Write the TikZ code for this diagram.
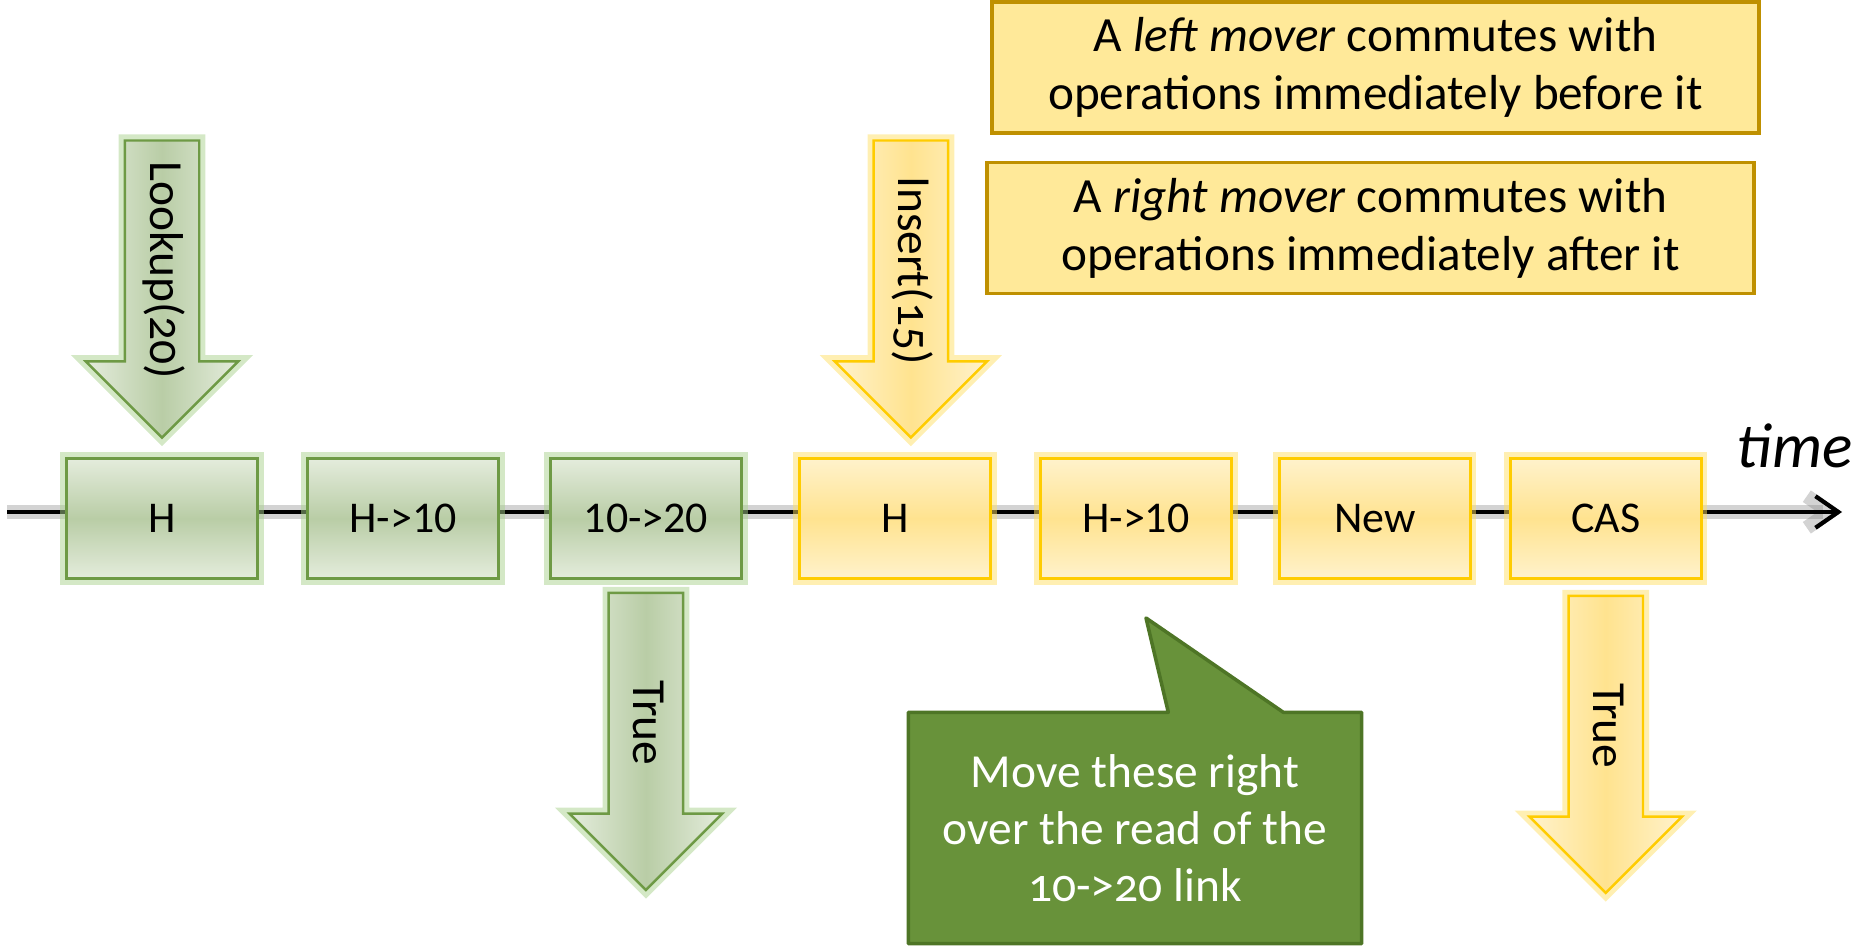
\documentclass[tikz,border=0pt]{standalone}
\usepackage{fontspec}
\setmainfont{Carlito}
\newfontfamily\oldnum[Numbers=OldStyle]{Carlito}
\usepackage{tikz}
\usetikzlibrary{arrows.meta}
\usetikzlibrary{backgrounds}
\usetikzlibrary{calc}
\usetikzlibrary{positioning}
\usetikzlibrary{shapes.arrows}

\definecolor{old-edge}{HTML}{6E9A45}
\definecolor{old-glow}{HTML}{A9D18E}
\definecolor{old-light}{HTML}{E4ECDC}
\definecolor{old-mid}{HTML}{B9CDA6}
\definecolor{new-edge}{HTML}{FFCC00}
\definecolor{new-glow}{HTML}{FFE066}
\definecolor{new-light}{HTML}{FFF2CC}
\definecolor{new-mid}{HTML}{FFE38F}
\definecolor{info-fill}{HTML}{FFE999}
\definecolor{info-edge}{HTML}{BF9000}
\definecolor{note-fill}{HTML}{68923A}
\definecolor{note-edge}{HTML}{4E7526}

\begin{document}
\begin{tikzpicture}[
    timeline/.style={line width=1.2pt, -{Straight Barb[length=6.5pt, width=9pt]},
        preaction={draw=gray, line width=4pt, opacity=0.35}},
    op/.style={rectangle, line width=0.7pt, minimum width=1.91cm,
        minimum height=1.2cm, inner sep=0pt, font=\fontsize{12.5}{15}\selectfont},
    oldop/.style={op, draw=old-edge, top color=old-light, bottom color=old-light,
        middle color=old-mid, preaction={draw=old-glow, line width=3.5pt, opacity=0.5}},
    newop/.style={op, draw=new-edge, top color=new-light, bottom color=new-light,
        middle color=new-mid, preaction={draw=new-glow, line width=3.5pt, opacity=0.5}},
    bigarrow/.style={single arrow, rotate=-90, line width=0.7pt,
        single arrow head extend=0.39cm, minimum height=2.97cm, minimum width=1.5cm,
        text height=0.34cm, text depth=0.1cm, inner ysep=0.14cm,
        font=\oldnum\fontsize{13.5}{16}\selectfont},
    oldarrow/.style={bigarrow, draw=old-edge, left color=old-light, right color=old-light,
        middle color=old-mid, preaction={draw=old-glow, line width=3.5pt, opacity=0.5}},
    newarrow/.style={bigarrow, draw=new-edge, left color=new-light, right color=new-light,
        middle color=new-mid, preaction={draw=new-glow, line width=3.5pt, opacity=0.5}},
    info/.style={rectangle, draw=info-edge, line width=1pt, fill=info-fill,
        minimum width=7.67cm, minimum height=1.31cm, align=center,
        font=\fontsize{14}{16.5}\selectfont},
    note/.style={rectangle, minimum width=4.52cm, minimum height=2.3cm, align=center,
        text=white, font=\oldnum\fontsize{13.5}{16.3}\selectfont},
    ]
    \useasboundingbox (0,0) rectangle (18.56,9.47);

    \coordinate (start) at (0.07,4.35);
    \coordinate (end) at (18.42,4.35);
    \draw [timeline] (start) -- (end);

    \node (look-h) [oldop] at (1.62,4.285) {H};
    \node (look-h10) [oldop, right=0.475cm of look-h] {H->10};
    \node (look-1020) [oldop, right=0.495cm of look-h10] {10->20};
    \node (ins-h) [newop, right=0.555cm of look-1020] {H};
    \node (ins-h10) [newop, right=0.475cm of ins-h] {H->10};
    \node (ins-new) [newop, right=0.455cm of ins-h10] {New};
    \node (ins-cas) [newop, right=0.375cm of ins-new] {CAS};

    \node (lookup) [oldarrow, anchor=tip] at ([yshift=0.18cm]look-h.north) {Lookup(20)};
    \node (insert) [newarrow, anchor=tip] at ([xshift=0.16cm, yshift=0.18cm]ins-h.north) {Insert(15)};
    \node (look-true) [oldarrow, anchor=tail] at ([yshift=-0.12cm]look-1020.south) {True};
    \node (ins-true) [newarrow, anchor=tail] at ([yshift=-0.15cm]ins-cas.south) {True};

    \node (time-label) [anchor=base east, inner sep=0pt, font=\itshape\fontsize{18}{21}\selectfont]
        at ([xshift=0.11cm, yshift=0.44cm]end) {time};

    \node (left-mover) [info] at (13.755,8.795)
        {A \emph{left mover} commutes with\\operations immediately before it};
    \node (right-mover) [info, below=0.26cm of left-mover, xshift=-0.05cm]
        {A \emph{right mover} commutes with\\operations immediately after it};

    \node (move-note) [note] at (11.35,1.19)
        {Move these right\\over the read of the\\10->20 link};
    \coordinate (note-tip) at (11.46,3.29);
    \begin{scope}[on background layer]
        \filldraw [fill=note-fill, draw=note-edge, line width=1pt, line join=round]
            (move-note.north west) -- ($(move-note.north west)+(2.6,0)$) -- (note-tip)
            -- ($(move-note.north west)+(3.75,0)$) -- (move-note.north east)
            -- (move-note.south east) -- (move-note.south west) -- cycle;
    \end{scope}
\end{tikzpicture}
\end{document}
